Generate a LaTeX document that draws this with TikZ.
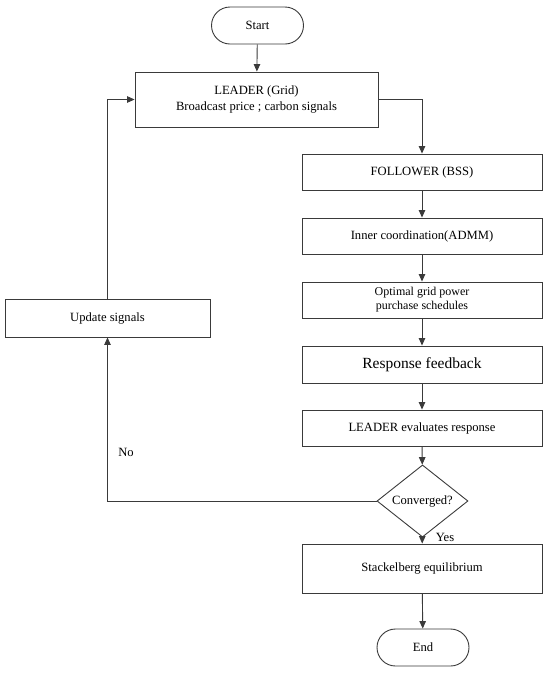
\documentclass[tikz,border=0pt]{standalone}
\usepackage{fontspec}
\setmainfont{Liberation Serif}
\usetikzlibrary{shapes.geometric,shapes.misc,arrows.meta}
\definecolor{ln}{HTML}{3A3A3A}
\tikzset{
  box/.style={draw=ln, line width=0.9pt, rectangle, inner sep=0pt, font=\fontsize{12.6}{15}\selectfont, align=center},
  term/.style={draw=ln, line width=0.9pt, rounded rectangle, inner sep=0pt, minimum width=92pt, minimum height=37pt, font=\fontsize{12.6}{15}\selectfont},
  dec/.style={draw=ln, line width=0.9pt, diamond, inner sep=0pt, minimum width=91pt, minimum height=55pt, font=\fontsize{12.6}{15}\selectfont},
  conn/.style={draw=ln, line width=0.9pt, -{Triangle[length=7.5pt,width=6.5pt]}},
  lab/.style={font=\fontsize{12.6}{15}\selectfont, inner sep=0pt}
}
\begin{document}
\begin{tikzpicture}[x=1pt,y=-1pt]
\useasboundingbox (0,0) rectangle (550,673);
\node[term] (start) at (257.5,25.5) {Start};
\node[box, minimum width=243pt, minimum height=55pt, font=\fontsize{12.6}{16}\selectfont] (leader) at (256.5,99.5) {LEADER (Grid)\\Broadcast price ; carbon signals};
\node[box, minimum width=240pt, minimum height=36pt] (follower) at (422,172) {FOLLOWER (BSS)};
\node[box, minimum width=240pt, minimum height=36pt] (inner) at (422,236) {Inner coordination(ADMM)};
\node[box, minimum width=240pt, minimum height=36pt, font=\fontsize{12}{14}\selectfont] (optimal) at (422,300) {Optimal grid power\\purchase schedules};
\node[box, minimum width=240pt, minimum height=37pt, font=\fontsize{15.5}{18}\selectfont] (resp) at (422,364.5) {Response feedback};
\node[box, minimum width=240pt, minimum height=36pt] (eval) at (422,428) {LEADER evaluates response};
\node[dec] (conv) at (422.5,501) {Converged?};
\node[box, minimum width=240pt, minimum height=49pt] (stack) at (422,568.5) {Stackelberg equilibrium};
\node[term] (end) at (423,647.5) {End};
\node[box, minimum width=205pt, minimum height=38pt] (update) at (107.5,318) {Update signals};
\node[lab] (no) at (126,452) {No};
\node[lab] (yes) at (445,537) {Yes};

\draw[conn] (start) -- (leader);
\draw[conn] (leader.east) -| (follower.north);
\draw[conn] (follower) -- (inner);
\draw[conn] (inner) -- (optimal);
\draw[conn] (optimal) -- (resp);
\draw[conn] (resp) -- (eval);
\draw[conn] (eval) -- (conv);
\draw[conn] (conv) -- (stack);
\draw[conn] (stack) -- (end);
\draw[conn] (conv.west) -| (update.south);
\draw[conn] (update.north) |- (leader.west);
\end{tikzpicture}
\end{document}
